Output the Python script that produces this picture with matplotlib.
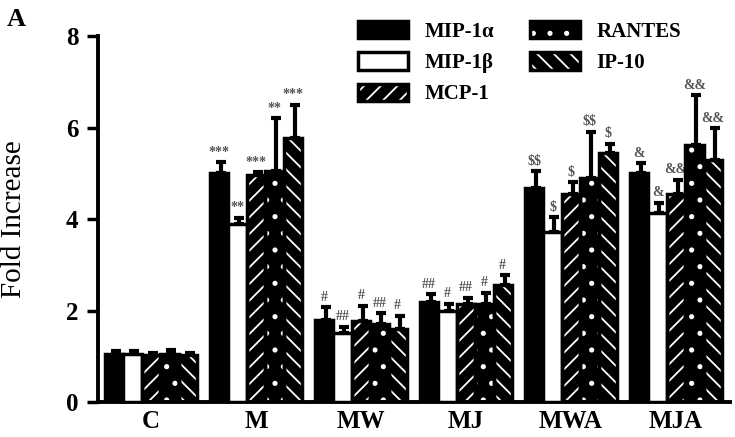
import matplotlib
matplotlib.use("Agg")
import matplotlib.pyplot as plt
import numpy as np
from matplotlib.patches import Patch
from matplotlib.legend_handler import HandlerTuple

groups = ["C", "M", "MW", "MJ", "MWA", "MJA"]
series = ["MIP-1α", "MIP-1β", "MCP-1", "RANTES", "IP-10"]

mip1a  = [1.05, 5.00, 1.79, 2.18, 4.67, 5.00]
mip1b  = [1.05, 3.90, 1.50, 1.98, 3.71, 4.13]
mcp1   = [1.03, 4.96, 1.77, 2.15, 4.54, 4.54]
rantes = [1.05, 5.06, 1.70, 2.14, 4.89, 5.61]
ip10   = [1.03, 5.78, 1.59, 2.55, 5.44, 5.28]

err_mip1a  = [0.06, 0.24, 0.28, 0.17, 0.37, 0.22]
err_mip1b  = [0.07, 0.12, 0.14, 0.17, 0.33, 0.22]
err_mcp1   = [0.05, 0.06, 0.33, 0.12, 0.26, 0.31]
err_rantes = [0.08, 1.14, 0.24, 0.24, 1.01, 1.09]
err_ip10   = [0.05, 0.72, 0.29, 0.22, 0.21, 0.70]

sig_mip1a  = ["", "***", "#", "##", "$$", "&"]
sig_mip1b  = ["", "**", "##", "#", "$", "&"]
sig_mcp1   = ["", "***", "#", "##", "$", "&&"]
sig_rantes = ["", "**", "##", "#", "$$", "&&"]
sig_ip10   = ["", "***", "#", "#", "$", "&&"]

values = [mip1a, mip1b, mcp1, rantes, ip10]
errors = [err_mip1a, err_mip1b, err_mcp1, err_rantes, err_ip10]
sigs = [sig_mip1a, sig_mip1b, sig_mcp1, sig_rantes, sig_ip10]

plt.rcParams['font.family'] = ['Liberation Serif', 'DejaVu Serif']
plt.rcParams['hatch.linewidth'] = 1.3

fig = plt.figure(figsize=(7.35, 4.37), dpi=100)
ax = fig.add_axes([98/735, 1-402/437, (730-98)/735, (402-36)/437])

styles = [
    dict(face='black', hatch=None),
    dict(face='white', hatch=None),
    dict(face='black', hatch='//'),
    dict(face='black', hatch='.'),
    dict(face='black', hatch='\\\\'),
]

x = np.arange(len(groups))
w = 0.175
for i, (vals, errs, sg, st) in enumerate(zip(values, errors, sigs, styles)):
    pos = x + (i - 2) * w
    ax.errorbar(pos + w*0.1, vals, yerr=[np.zeros(len(vals)), errs], fmt='none',
                ecolor='black', elinewidth=3, capsize=3.5, capthick=3, zorder=1)
    if st['hatch']:
        ax.bar(pos, vals, w, color=st['face'], edgecolor='white', hatch=st['hatch'],
               linewidth=0, zorder=2)
        ax.bar(pos, vals, w, facecolor='none', edgecolor='black', linewidth=2.5, zorder=3)
    else:
        ax.bar(pos, vals, w, color=st['face'], edgecolor='black', linewidth=2.5, zorder=3)
    for p, v, e, s in zip(pos, vals, errs, sg):
        if s:
            ax.text(p, v + e + 0.08, s, ha='center', va='bottom', fontsize=10,
                    color='#555555', fontweight='bold', parse_math=False)

leg_handles = []
for st in styles:
    if st['hatch']:
        leg_handles.append((Patch(facecolor='black', edgecolor='white', linewidth=0,
                                  hatch=st['hatch']),
                            Patch(facecolor='none', edgecolor='black', linewidth=2.5)))
    else:
        leg_handles.append(Patch(facecolor=st['face'], edgecolor='black', linewidth=2.5))
leg = fig.legend(leg_handles, series, ncol=2, loc='upper left',
                 bbox_to_anchor=(358/735, 1-21/437), frameon=False,
                 prop={'size': 15, 'weight': 'bold'}, handlelength=2.4,
                 handleheight=0.9, labelspacing=0.5, columnspacing=1.7,
                 borderpad=0, borderaxespad=0, handletextpad=0.8,
                 handler_map={tuple: HandlerTuple(ndivide=1, pad=0)})

ax.set_xlim(-0.505, 5.514)
ax.set_ylim(0, 8)
ax.set_yticks([0, 2, 4, 6, 8])
ax.set_xticks(x)
ax.set_xticklabels(groups, fontsize=18, fontweight='bold')
for t in ax.get_yticklabels():
    t.set_fontsize(18)
    t.set_fontweight('bold')
ax.tick_params(axis='y', length=8, width=2.5, direction='out', pad=6)
ax.tick_params(axis='x', length=0, pad=6)
for s in ['top', 'right']:
    ax.spines[s].set_visible(False)
for s in ['left', 'bottom']:
    ax.spines[s].set_linewidth(2.8)
ax.set_ylabel('Fold Increase', fontsize=21)
ax.yaxis.set_label_coords(-0.112, 0.5)
fig.text(7/735, 1-19/437, 'A', fontsize=19, fontweight='bold', va='center')

fig.savefig('out.png', dpi=100)
